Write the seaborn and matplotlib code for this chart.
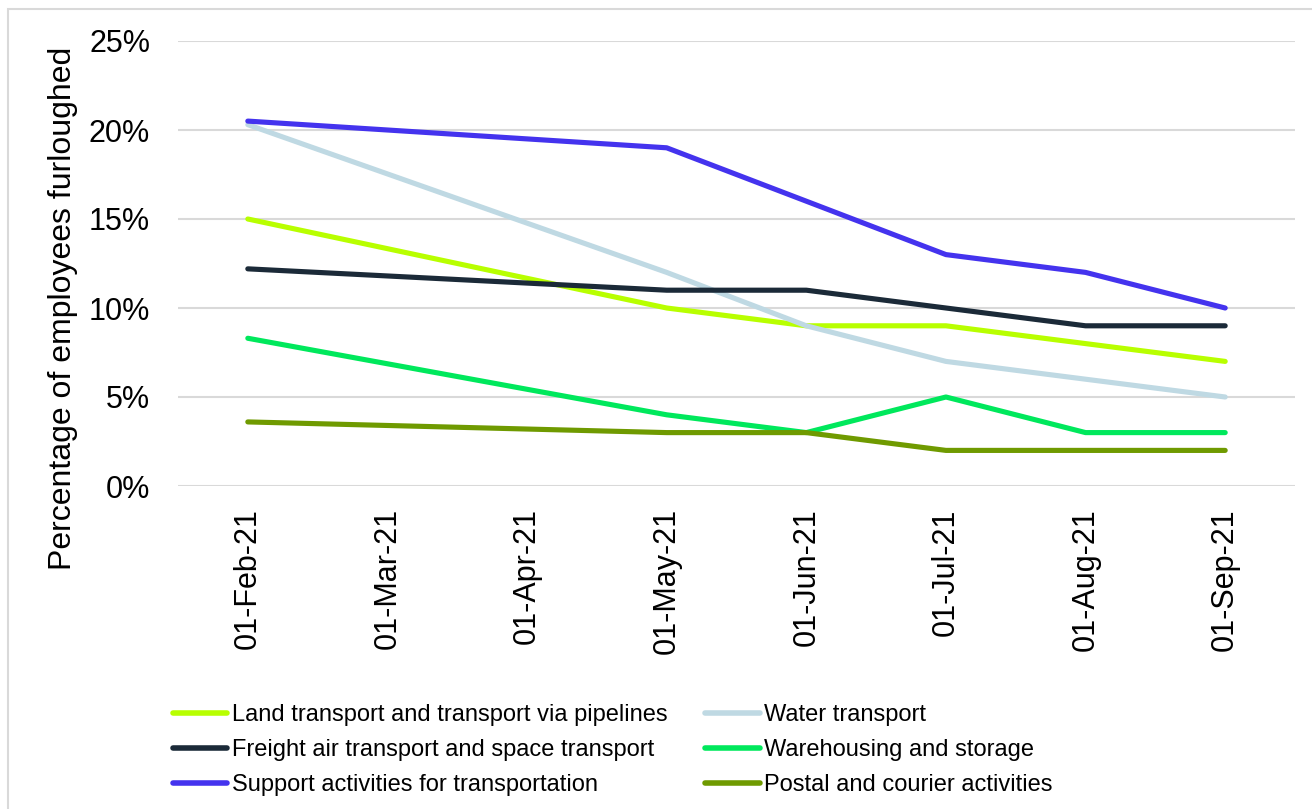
import matplotlib
matplotlib.use("Agg")
import matplotlib.pyplot as plt
from matplotlib.patches import Rectangle
from matplotlib.ticker import FuncFormatter
import pandas as pd
import seaborn as sns

# Month tick labels along the x axis
months = ["01-Feb-21", "01-Mar-21", "01-Apr-21", "01-May-21",
          "01-Jun-21", "01-Jul-21", "01-Aug-21", "01-Sep-21"]
# Months with observations
obs_months = ["01-Feb-21", "01-May-21", "01-Jun-21", "01-Jul-21", "01-Aug-21", "01-Sep-21"]

# Percentage of employees furloughed, by transport sub-sector
land = [15.0, 10, 9, 9, 8, 7]
water = [20.3, 12, 9, 7, 6, 5]
freight = [12.2, 11, 11, 10, 9, 9]
warehousing = [8.3, 4, 3, 5, 3, 3]
support = [20.5, 19, 16, 13, 12, 10]
postal = [3.6, 3, 3, 2, 2, 2]

series_names = [
    "Land transport and transport via pipelines",
    "Water transport",
    "Freight air transport and space transport",
    "Warehousing and storage",
    "Support activities for transportation",
    "Postal and courier activities",
]
series_values = [land, water, freight, warehousing, support, postal]
colors = ["#b8ff00", "#bfd9e3", "#1b2a38", "#00e85c", "#4433ee", "#6f9a00"]

rows = []
for name, vals in zip(series_names, series_values):
    for m, v in zip(obs_months, vals):
        rows.append({"month": months.index(m), "pct": v, "series": name})
df = pd.DataFrame(rows)

sns.set_theme(style="white")
plt.rcParams["font.family"] = ["Liberation Sans", "DejaVu Sans"]

W, H = 1312, 809
fig = plt.figure(figsize=(W / 100, H / 100), dpi=100)
ax = fig.add_axes([178 / W, 1 - 486 / H, (1295 - 178) / W, (486 - 41) / H])

sns.lineplot(data=df, x="month", y="pct", hue="series", hue_order=series_names,
             palette=dict(zip(series_names, colors)), linewidth=3.7,
             sort=False, ax=ax, legend=True)
for ln in ax.lines:
    ln.set_solid_capstyle("round")
    ln.set_solid_joinstyle("round")

ax.set_xlim(-0.5, len(months) - 0.5)
ax.set_ylim(0, 25)
ax.set_yticks([0, 5, 10, 15, 20, 25])
ax.yaxis.set_major_formatter(FuncFormatter(lambda v, _: f"{v:.0f}%"))
ax.set_xticks(range(len(months)))
ax.set_xticklabels(months, rotation=90, va="top", ha="center")
ax.tick_params(axis="y", labelsize=22, length=0, pad=20, colors="black")
ax.tick_params(axis="x", labelsize=22, length=0, pad=16, colors="black")
ax.set_xlabel("")
ax.set_ylabel("")
ax.grid(axis="y", color="#d9d9d9", linewidth=1.5)
ax.grid(axis="x", visible=False)
ax.set_axisbelow(True)
for sp in ax.spines.values():
    sp.set_visible(False)

fig.text(63 / W, 1 - 308 / H, "Percentage of employees furloughed",
         rotation=90, ha="center", va="center", fontsize=23, color="black")

# Legend: two columns, filled row by row
handles, labels = ax.get_legend_handles_labels()
ax.get_legend().remove()
lookup = dict(zip(labels, handles))
order = [0, 2, 4, 1, 3, 5]
hs = [lookup[series_names[i]] for i in order]
ls = [series_names[i] for i in order]
for h in hs:
    h.set_linewidth(4.0)
    h.set_solid_capstyle("round")
fig.legend(hs, ls, loc="upper left", ncol=2, frameon=False,
           bbox_to_anchor=(173 / W, 1 - 704 / H), borderaxespad=0, borderpad=0,
           fontsize=17, handlelength=2.3, handletextpad=0.2,
           columnspacing=1.6, labelspacing=0.55, labelcolor="black")

# Thin light frame around the chart area
fig.patches.append(Rectangle((8 / W, -0.05), 1.1, 1 - 9 / H + 0.05,
                             transform=fig.transFigure, fill=False,
                             edgecolor="#d9d9d9", linewidth=1.5))

fig.savefig("out.png", dpi=100, facecolor="white")
